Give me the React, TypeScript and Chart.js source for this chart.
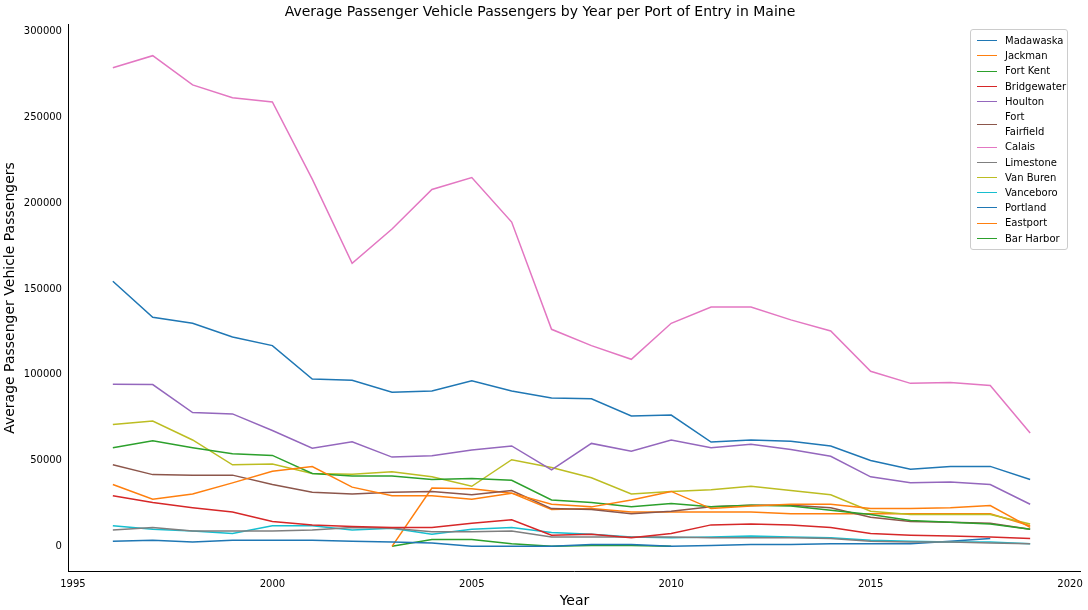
import React, { useEffect, useRef } from 'react';
import Chart from 'chart.js/auto';

const years = [1996, 1997, 1998, 1999, 2000, 2001, 2002, 2003, 2004, 2005, 2006, 2007, 2008, 2009, 2010, 2011, 2012, 2013, 2014, 2015, 2016, 2017, 2018, 2019];
const madawaska = [154500, 133500, 130000, 122000, 117000, 97500, 96800, 89800, 90500, 96500, 90500, 86500, 86000, 76000, 76500, 60800, 62000, 61200, 58500, 50000, 45000, 46500, 46600, 39000];
const jackman = [36000, 27500, 30500, 37000, 43800, 46500, 34500, 29500, 29500, 27500, 31000, 24500, 23000, 27000, 32000, 22000, 23500, 24500, 24500, 22000, 22000, 22500, 23800, 11000];
const fortKent = [57500, 61500, 57500, 54000, 53000, 42500, 41000, 41000, 39000, 39500, 38500, 27000, 25500, 23000, 25000, 23000, 24000, 23500, 21000, 18500, 15000, 14000, 13000, 10000];
const bridgewater = [29500, 25500, 22500, 20000, 14500, 12500, 11500, 11000, 11000, 13500, 15500, 6500, 7000, 5000, 7500, 12500, 13000, 12500, 11000, 7500, 6500, 6000, 5500, 4500];
const houlton = [94500, 94300, 78000, 77200, 67500, 57200, 61000, 52000, 52800, 56200, 58500, 44500, 60000, 55500, 62000, 57500, 59500, 56500, 52500, 40500, 37000, 37500, 36000, 24500];
const fortFairfield = [47500, 41800, 41500, 41500, 36000, 31500, 30500, 31500, 32000, 30000, 32500, 22000, 21500, 19000, 20500, 23000, 24000, 24000, 22500, 17000, 14500, 14000, 13500, 10000];
const calais = [279000, 286000, 269000, 261500, 259000, 214000, 165000, 185000, 208000, 215000, 189000, 126500, 117000, 109000, 130000, 139500, 139500, 132000, 125500, 102000, 95000, 95500, 93700, 66000];
const limestone = [9500, 11000, 9000, 9000, 9000, 9500, 11000, 10500, 8500, 8500, 9000, 5500, 5500, 5500, 5500, 5000, 5000, 5000, 4500, 3000, 2500, 2500, 2000, 1500];
const vanBuren = [71000, 73000, 62000, 47500, 48000, 42500, 42000, 43500, 40500, 35000, 50500, 46000, 40000, 30500, 32000, 33000, 35000, 32500, 30000, 20500, 18500, 18500, 18500, 13000];
const vanceboro = [12000, 10000, 9000, 7500, 12000, 12000, 9500, 10500, 7000, 10000, 11000, 8000, 7000, 5500, 5000, 5500, 6000, 5500, 5000, 3500, 3000, 2500, 2500, 1500];
const portland = [3000, 3500, 2500, 3500, 3500, 3500, 3000, 2500, 2000, 0, 0, 0, 1000, 1000, 0, 500, 1000, 1000, 1500, 1500, 1500, 3000, 4500, null];
const eastport = [null, null, null, null, null, null, null, 0, 34000, 33500, 31000, 21500, 22000, 20000, 20000, 20000, 20000, 19000, 19000, 19000, 19000, 19000, 19000, 12000];
const barHarbor = [null, null, null, null, null, null, null, 0, 4000, 4000, 1500, 0, 500, 500, 0, null, null, null, null, null, null, null, null, null];

const series: [string, (number | null)[], string][] = [
  ['Madawaska', madawaska, '#1f77b4'],
  ['Jackman', jackman, '#ff7f0e'],
  ['Fort Kent', fortKent, '#2ca02c'],
  ['Bridgewater', bridgewater, '#d62728'],
  ['Houlton', houlton, '#9467bd'],
  ['Fort Fairfield', fortFairfield, '#8c564b'],
  ['Calais', calais, '#e377c2'],
  ['Limestone', limestone, '#7f7f7f'],
  ['Van Buren', vanBuren, '#bcbd22'],
  ['Vanceboro', vanceboro, '#17becf'],
  ['Portland', portland, '#1f77b4'],
  ['Eastport', eastport, '#ff7f0e'],
  ['Bar Harbor', barHarbor, '#2ca02c'],
];

export default function App() {
  const ref = useRef<HTMLCanvasElement>(null);
  useEffect(() => {
    document.body.style.margin = '0';
    const chart = new Chart(ref.current!, {
      type: 'line',
      data: {
        datasets: series.map(([label, vals, color]) => ({
          label,
          data: years.map((y, i) => ({ x: y, y: vals[i] })),
          borderColor: color,
          backgroundColor: color,
          borderWidth: 1.5,
          pointRadius: 0,
          tension: 0,
          spanGaps: false,
        })),
      },
      options: {
        animation: false,
        responsive: false,
        layout: { padding: { right: 8 } },
        plugins: {
          legend: { display: false },
          tooltip: { enabled: false },
          title: { display: true, text: 'Average Passenger Vehicle Passengers by Year per Port of Entry in Maine', color: '#000', font: { family: 'DejaVu Sans', size: 14, weight: 'normal' }, padding: { top: 4, bottom: 4 } },
        },
        scales: {
          x: {
            type: 'linear', min: 1994.9, max: 2020.25,
            grid: { display: false, drawTicks: true, tickLength: 4, color: '#000' },
            border: { color: '#000' },
            afterBuildTicks: (ax: any) => { ax.ticks = [1995, 2000, 2005, 2010, 2015, 2020].map(v => ({ value: v })); },
            ticks: { color: '#000', font: { family: 'DejaVu Sans', size: 10 }, callback: (v: any) => String(v) },
            title: { display: true, text: 'Year', color: '#000', font: { family: 'DejaVu Sans', size: 14 }, padding: 0 },
          },
          y: {
            min: -14500, max: 304000,
            grid: { display: false, tickLength: 4 },
            border: { color: '#000' },
            afterBuildTicks: (ax: any) => { ax.ticks = [0, 50000, 100000, 150000, 200000, 250000, 300000].map(v => ({ value: v })); },
            ticks: { color: '#000', font: { family: 'DejaVu Sans', size: 10 }, callback: (v: any) => String(v) },
            title: { display: true, text: 'Average Passenger Vehicle Passengers', color: '#000', font: { family: 'DejaVu Sans', size: 14 }, padding: 2 },
          },
        },
      },
    });
    return () => chart.destroy();
  }, []);
  return (
    <div style={{ position: 'relative', width: 1088, height: 610, fontFamily: 'DejaVu Sans' }}>
      <canvas ref={ref} width={1088} height={610} />
      <div style={{ position: 'absolute', left: 970, top: 29, width: 98, border: '1px solid #ccc', borderRadius: 3, background: '#fff', padding: '3px 0 3px 6px', fontSize: 10, lineHeight: '15.2px', boxSizing: 'border-box' }}>
        {series.map(([label, , color]) => (
          <div key={label} style={{ display: 'flex', alignItems: 'center' }}>
            <span style={{ display: 'inline-block', width: 20, height: 0, borderTop: `1.5px solid ${color}`, marginRight: 8 }} />
            {label}
          </div>
        ))}
      </div>
    </div>
  );
}
